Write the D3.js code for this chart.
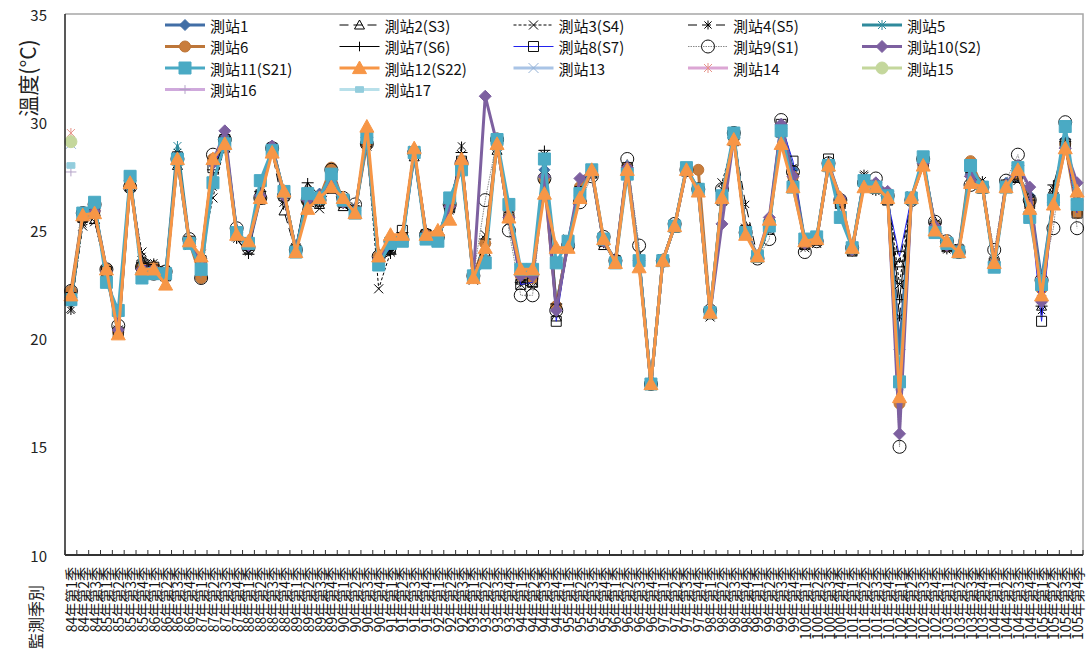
<!DOCTYPE html>
<html><head><meta charset="utf-8">
<script src="https://cdn.jsdelivr.net/npm/d3@7"></script>
<style>
body{margin:0;background:#fff;}
svg{display:block;font-family:"Noto Sans CJK TC","Noto Sans",sans-serif;}
</style></head>
<body>
<svg id="chart" width="1086" height="650"></svg>
<script>
const categories = [
"84年第1季","84年第2季","84年第3季",
"85年第1季","85年第2季","85年第3季","85年第4季",
"86年第1季","86年第2季","86年第3季","86年第4季",
"87年第1季","87年第2季","87年第3季","87年第4季",
"88年第1季","88年第2季","88年第3季","88年第4季",
"89年第1季","89年第2季","89年第3季","89年第4季",
"90年第1季","90年第2季","90年第3季","90年第4季",
"91年第1季","91年第2季","91年第3季","91年第4季",
"92年第1季","92年第2季","92年第3季",
"93年第1季","93年第2季","93年第3季","93年第4季",
"94年第1季","94年第2季","94年第3季","94年第4季",
"95年第1季","95年第2季","95年第3季","95年第4季",
"96年第1季","96年第2季","96年第3季","96年第4季",
"97年第1季","97年第2季","97年第3季","97年第4季",
"98年第1季","98年第2季","98年第3季","98年第4季",
"99年第1季","99年第2季","99年第3季","99年第4季",
"100年第1季","100年第2季","100年第3季","100年第4季",
"101年第1季","101年第2季","101年第3季","101年第4季",
"102年第1季","102年第2季","102年第3季","102年第4季",
"103年第1季","103年第2季","103年第3季","103年第4季",
"104年第1季","104年第2季","104年第3季","104年第4季",
"105年第1季","105年第2季","105年第3季","105年第4季"];

const yTicks = [10,15,20,25,30,35];

const st1 = [21.9,25.8,26.0,23.2,20.4,27.3,23.3,23.1,22.8,28.5,
 24.4,23.7,28.1,29.3,25.0,24.2,26.5,28.9,26.7,24.1,
 26.6,26.7,27.2,26.4,26.0,29.1,23.6,24.2,24.6,28.5,
 24.9,24.6,26.2,28.1,22.8,24.4,29.1,25.5,22.9,22.9,
 27.8,21.4,24.5,27.0,27.8,24.5,23.6,28.0,23.5,17.9,
 23.6,25.2,27.9,26.8,21.2,26.4,29.4,25.0,23.8,25.4,
 29.9,27.8,24.5,24.6,28.1,26.5,24.1,27.2,27.1,26.6,
 19.5,26.5,28.2,25.2,24.3,24.1,27.6,27.1,23.4,27.2,
 27.5,26.6,22.7,26.4,29.2,26.4];
const st2 = [21.8,25.6,25.5,23.0,20.5,27.0,23.6,23.4,23.0,28.0,
 24.6,23.5,27.5,28.8,24.8,24.4,26.4,28.6,25.9,24.0,
 27.0,26.2,26.9,26.1,25.8,29.0,23.5,24.1,24.8,28.4,
 24.7,24.5,26.0,28.0,22.9,24.0,28.7,25.8,22.7,22.6,
 27.6,21.0,24.3,26.6,27.6,24.3,23.6,27.7,23.8,17.9,
 23.6,25.1,27.7,26.8,21.1,26.6,29.1,25.2,23.7,25.0,
 29.5,27.5,24.3,24.5,27.9,26.2,24.0,27.4,26.9,26.4,
 23.5,26.4,28.0,25.4,24.2,24.2,27.3,26.9,23.4,27.0,
 27.4,26.2,21.5,26.9,28.9,26.3];
const st3 = [21.4,25.2,25.4,23.1,20.4,27.1,24.0,23.2,23.1,28.2,
 24.3,23.9,26.5,29.0,24.7,24.1,26.7,28.7,26.3,24.2,
 26.2,26.0,27.0,26.2,26.1,28.9,22.3,24.0,24.6,28.7,
 24.8,24.8,26.3,28.5,22.7,24.8,28.9,25.4,22.5,22.4,
 28.5,21.2,24.6,26.9,27.7,24.4,23.5,27.8,23.9,17.9,
 23.7,25.3,27.8,26.8,21.0,27.2,29.2,25.1,23.9,25.2,
 29.6,27.7,24.2,24.4,28.0,26.4,24.2,27.5,27.0,26.7,
 22.5,26.6,28.1,25.3,24.4,24.0,27.4,27.0,23.6,27.1,
 27.3,26.4,21.8,26.7,28.7,26.0];
const st4 = [21.3,25.3,25.6,23.0,20.3,27.0,23.8,23.5,23.2,28.6,
 24.4,23.8,27.0,28.9,24.6,24.0,26.6,28.7,26.4,24.2,
 26.5,26.3,27.1,26.2,26.0,29.0,23.8,24.1,24.7,28.7,
 24.9,24.6,25.9,28.9,22.9,24.6,28.9,25.7,22.7,22.7,
 28.2,21.5,24.5,26.7,27.8,24.6,23.6,28.0,23.6,17.9,
 23.5,25.3,27.8,27.0,21.2,26.9,29.3,26.2,23.8,25.4,
 29.8,27.9,24.5,24.7,28.1,26.4,24.0,27.6,26.8,26.7,
 21.0,26.5,28.2,25.3,24.1,24.2,27.4,27.3,23.5,27.1,
 27.5,26.5,21.3,26.9,28.9,26.0];
const st5 = [21.7,25.7,26.0,23.1,20.2,27.3,23.3,23.2,22.9,28.9,
 24.5,23.6,28.1,29.2,24.9,24.3,26.6,28.9,26.7,24.1,
 26.5,26.6,27.2,26.3,25.9,29.3,23.7,24.3,24.7,28.6,
 24.8,24.7,26.1,28.2,22.9,24.3,29.0,25.6,22.9,22.9,
 27.9,21.5,24.4,26.8,27.7,24.5,23.6,27.9,23.6,17.9,
 23.6,25.2,27.8,26.9,21.2,26.5,29.3,25.0,23.8,25.3,
 29.8,27.7,24.4,24.6,28.0,26.3,24.1,27.3,27.0,26.6,
 17.8,26.5,28.1,25.2,24.3,24.1,27.5,27.0,23.5,27.1,
 27.6,26.3,22.3,26.3,29.0,26.5];
const st6 = [22.2,25.8,25.9,23.2,20.3,27.2,23.3,23.3,22.9,28.3,
 24.5,22.8,28.3,29.1,24.9,24.4,26.5,28.8,26.7,24.1,
 26.3,26.5,27.9,26.3,25.9,29.0,23.8,24.4,24.7,28.6,
 24.8,24.7,26.2,28.1,22.9,24.4,29.1,25.6,22.9,22.8,
 27.3,21.5,24.4,27.0,27.7,24.5,23.6,27.9,23.6,17.9,
 23.6,25.2,27.8,27.8,21.2,26.5,29.3,25.0,23.8,25.3,
 29.6,27.5,24.4,24.6,28.0,26.3,24.1,27.3,27.0,26.6,
 17.0,26.5,28.1,25.2,24.3,24.1,28.2,27.0,23.5,27.1,
 27.6,26.3,22.3,26.3,29.0,25.8];
const st7 = [21.6,25.5,25.7,23.0,20.4,27.1,23.5,23.4,23.0,28.1,
 24.4,23.7,27.8,29.0,24.6,23.9,26.8,28.7,26.5,24.2,
 27.2,26.6,27.2,26.5,26.0,29.1,23.6,23.9,24.9,28.5,
 24.9,24.7,26.0,28.6,22.8,24.6,28.8,25.9,22.6,22.9,
 28.7,21.6,24.3,26.6,27.6,24.4,23.6,27.8,23.7,17.9,
 23.6,25.2,27.8,26.9,21.2,26.7,29.3,25.1,23.8,25.2,
 29.7,27.6,24.4,24.7,28.2,26.4,24.1,27.3,26.9,26.5,
 21.8,26.5,28.2,25.3,24.4,24.0,27.5,27.0,23.4,27.0,
 27.6,26.4,21.5,27.1,29.1,26.4];
const st8 = [21.9,25.6,25.8,23.1,20.3,27.5,23.4,23.3,22.9,28.4,
 24.5,23.6,27.9,29.2,24.9,24.3,26.6,28.8,26.6,24.1,
 26.5,26.4,27.0,26.3,25.9,29.1,23.5,24.2,25.0,28.6,
 24.8,24.6,26.1,28.2,22.9,23.5,29.1,25.6,22.5,22.6,
 28.3,20.8,24.4,26.8,27.7,24.5,23.6,27.9,23.6,17.9,
 23.6,25.2,27.8,26.9,21.2,26.4,29.4,25.0,23.8,25.3,
 29.9,28.2,24.4,24.6,28.3,26.3,24.1,27.3,27.0,26.4,
 23.8,26.5,28.1,25.2,24.3,24.1,27.9,27.0,23.5,27.1,
 27.6,26.3,20.8,26.3,29.0,25.8];
const st9 = [22.2,25.8,26.2,23.2,20.6,27.0,23.3,23.0,23.1,28.3,
 24.6,22.8,28.5,29.2,25.1,24.2,26.5,28.8,26.6,24.1,
 26.4,26.4,27.8,26.5,26.2,29.0,23.8,24.5,24.6,28.6,
 24.8,24.7,26.2,28.1,22.9,26.4,29.2,25.0,22.0,22.0,
 27.4,21.3,24.3,26.3,27.5,24.7,23.6,28.3,24.3,17.9,
 23.6,25.3,27.8,26.9,21.3,26.9,29.5,24.9,23.7,24.6,
 30.1,27.7,24.0,24.5,28.1,26.4,24.2,27.2,27.4,26.6,
 15.0,26.4,28.3,25.4,24.5,24.0,27.1,27.0,24.1,27.3,
 28.5,26.4,22.7,25.1,30.0,25.1];
const st10 = [21.9,25.8,25.9,23.1,20.4,27.3,23.2,23.2,22.9,28.3,
 24.5,23.6,28.1,29.6,24.9,24.3,26.6,28.9,26.6,24.1,
 26.4,26.6,27.2,26.3,25.9,29.3,23.7,24.4,24.7,28.6,
 24.8,24.7,26.1,28.2,22.9,31.2,29.0,25.6,22.9,22.9,
 27.5,21.3,24.4,27.4,27.7,24.5,23.6,27.9,23.6,17.9,
 23.6,25.2,27.8,26.9,21.2,25.3,29.3,25.0,23.8,25.6,
 29.9,27.5,24.4,24.6,28.0,26.5,24.1,27.3,27.2,26.8,
 15.6,26.5,28.1,25.2,24.3,24.1,27.5,27.0,23.5,27.1,
 28.0,27.0,21.7,26.3,28.8,27.2];
const st11 = [21.8,25.8,26.3,22.6,21.3,27.5,22.8,23.0,23.0,28.3,
 24.4,23.2,27.2,29.0,24.9,24.4,27.3,28.7,26.8,24.0,
 26.7,26.5,27.6,26.4,25.8,29.3,23.4,24.4,24.5,28.6,
 24.6,24.5,26.5,27.8,22.9,23.5,29.2,26.2,23.2,23.2,
 28.3,23.5,24.5,26.7,27.8,24.6,23.5,27.6,23.6,17.9,
 23.6,25.2,27.9,26.9,21.2,26.6,29.5,24.9,23.8,25.2,
 29.6,27.0,24.6,24.7,28.0,25.6,24.2,27.3,27.0,26.6,
 18.0,26.5,28.4,24.9,24.4,24.0,28.0,27.0,23.3,27.0,
 27.9,25.6,22.5,26.4,29.8,26.2];
const st12 = [22.0,25.7,25.8,23.2,20.2,27.2,23.2,23.2,22.5,28.3,
 24.5,23.8,28.3,29.0,24.8,24.5,26.5,28.6,26.8,24.0,
 26.0,26.5,27.0,26.5,25.8,29.8,23.8,24.8,24.8,28.8,
 24.8,25.0,25.5,28.3,22.8,24.2,29.0,25.6,23.2,23.2,
 26.7,24.2,24.2,26.5,27.8,24.6,23.5,27.8,23.3,17.9,
 23.6,25.2,27.8,26.8,21.2,26.5,29.2,24.8,23.8,25.5,
 29.0,27.0,24.5,24.6,28.0,26.5,24.2,27.0,27.0,26.5,
 17.3,26.5,28.0,25.0,24.5,24.0,27.2,27.0,23.5,27.0,
 27.8,26.0,22.0,26.2,28.8,26.8];
const st13 = [29.0];
const st14 = [29.5];
const st15 = [29.1];
const st16 = [27.7];
const st17 = [28.0];

const seriesNames = ["測站1","測站2(S3)","測站3(S4)","測站4(S5)","測站5",
 "測站6","測站7(S6)","測站8(S7)","測站9(S1)","測站10(S2)",
 "測站11(S21)","測站12(S22)","測站13","測站14","測站15","測站16","測站17"];
const seriesValues = [st1,st2,st3,st4,st5,st6,st7,st8,st9,st10,st11,st12,st13,st14,st15,st16,st17];

// styles (not data)
const styles = [
 {c:"#416ea6", w:3, dash:null, m:"diamond", ms:5.5, mf:"#416ea6", mc:"#416ea6"},
 {c:"#000", w:1, dash:"9,5", m:"triangle", ms:5, mf:"none", mc:"#000"},
 {c:"#000", w:1, dash:"3,2", m:"x", ms:4.5, mf:"none", mc:"#000"},
 {c:"#000", w:1, dash:"9,5", m:"asterisk", ms:4.5, mf:"none", mc:"#000"},
 {c:"#2f8a9c", w:3, dash:null, m:"asterisk", ms:5, mf:"none", mc:"#2f8a9c"},
 {c:"#bd7639", w:3, dash:null, m:"circle", ms:5.5, mf:"#c97d3c", mc:"#bd7639"},
 {c:"#000", w:1, dash:null, m:"plus", ms:6, mf:"none", mc:"#000"},
 {c:"#2222ee", w:1, dash:null, m:"square", ms:5, mf:"none", mc:"#111"},
 {c:"#8a8a8a", w:1, dash:"1.5,1", m:"circle", ms:6.5, mf:"none", mc:"#111"},
 {c:"#7d60a0", w:3, dash:null, m:"diamond", ms:6, mf:"#7d60a0", mc:"#7d60a0"},
 {c:"#4aaac4", w:3, dash:null, m:"square", ms:6, mf:"#4aaac4", mc:"#4aaac4"},
 {c:"#f79646", w:3, dash:null, m:"triangle", ms:7, mf:"#f79646", mc:"#f79646"},
 {c:"#a9c4e6", w:3, dash:null, m:"x", ms:5, mf:"none", mc:"#95b3d7"},
 {c:"#dca6d4", w:3, dash:null, m:"asterisk", ms:5, mf:"none", mc:"#e6948a"},
 {c:"#c4d79c", w:3, dash:null, m:"circle", ms:6, mf:"#c4d79c", mc:"#c4d79c"},
 {c:"#cfa9dc", w:3, dash:null, m:"plus", ms:5.5, mf:"none", mc:"#b3a2c7"},
 {c:"#b8e0ea", w:3, dash:null, m:"rect", ms:4, mf:"#93cddd", mc:"#93cddd"}
];

function markerPath(t, s){
  switch(t){
    case "diamond": return `M0,${-s}L${s},0L0,${s}L${-s},0Z`;
    case "triangle": return `M0,${-s}L${s},${s*0.8}L${-s},${s*0.8}Z`;
    case "square": return `M${-s},${-s}h${2*s}v${2*s}h${-2*s}Z`;
    case "circle": return `M${s},0A${s},${s} 0 1,1 ${-s},0A${s},${s} 0 1,1 ${s},0Z`;
    case "x": return `M${-s},${-s}L${s},${s}M${-s},${s}L${s},${-s}`;
    case "plus": return `M${-s},0H${s}M0,${-s*0.8}V${s*0.8}`;
    case "asterisk": return `M${-s*0.8},${-s*0.8}L${s*0.8},${s*0.8}M${-s*0.8},${s*0.8}L${s*0.8},${-s*0.8}M0,${-s}V${s}`;
    case "rect": return `M${-s},${-s*0.7}h${2*s}v${1.4*s}h${-2*s}Z`;
  }
}

const svg = d3.select("#chart");
const L = 65, R = 1083, T = 14, B = 555;
const x = d3.scaleBand().domain(categories).range([L, R]).padding(0);
const y = d3.scaleLinear().domain([10, 35]).range([B, T]);
const cx = c => x(c) + x.bandwidth()/2;

// plot border (top/right)
svg.append("path").attr("d", `M${L},${T}H${R}V${B}`).attr("fill","none").attr("stroke","#a6a6a6").attr("stroke-width",1.5);

// series
seriesValues.forEach((vals, i) => {
  const s = styles[i];
  const pts = vals.map((v, j) => ({c: categories[j], v})).filter(d => d.v != null);
  const g = svg.append("g");
  if (pts.length > 1) {
    g.append("path").datum(pts)
      .attr("d", d3.line().x(d => cx(d.c)).y(d => y(d.v)))
      .attr("fill","none").attr("stroke", s.c).attr("stroke-width", s.w)
      .attr("stroke-dasharray", s.dash).attr("stroke-linejoin","round");
  }
  g.selectAll("path.m").data(pts).join("path").attr("class","m")
    .attr("transform", d => `translate(${cx(d.c)},${y(d.v)})`)
    .attr("d", markerPath(s.m, s.ms))
    .attr("fill", s.mf).attr("stroke", s.mc).attr("stroke-width", 1);
});

// axes
svg.append("line").attr("x1",L).attr("x2",L).attr("y1",T).attr("y2",B).attr("stroke","#222").attr("stroke-width",1.5);
svg.append("line").attr("x1",L).attr("x2",R).attr("y1",B).attr("y2",B).attr("stroke","#333").attr("stroke-width",2);
const tickX = categories.map(c => x(c)).concat([R]);
svg.append("g").selectAll("line").data(tickX).join("line")
  .attr("x1", d => d).attr("x2", d => d).attr("y1", B).attr("y2", B-5)
  .attr("stroke","#333").attr("stroke-width",1);

svg.append("g").selectAll("text").data(yTicks).join("text")
  .attr("x", 47).attr("y", d => y(d)).attr("text-anchor","end")
  .attr("dominant-baseline","central").attr("font-size",15).attr("fill","#222")
  .text(d => d);

svg.append("g").selectAll("text").data(categories).join("text")
  .attr("transform", d => `translate(${cx(d)},567) rotate(-90)`)
  .attr("text-anchor","end").attr("dominant-baseline","central")
  .attr("font-size",14).attr("fill","#111").text(d => d);

svg.append("text").attr("transform","translate(27,78) rotate(-90)")
  .attr("text-anchor","middle").attr("dominant-baseline","central")
  .attr("font-size",21).attr("fill","#222").text("溫度(°C)");
svg.append("text").attr("transform","translate(35,617) rotate(-90)")
  .attr("text-anchor","middle").attr("dominant-baseline","central")
  .attr("font-size",16).attr("fill","#222").text("監測季別");

// legend
const colX = [165, 339.5, 513.5, 688, 862];
const rowY = [25, 46.5, 68, 89.5];
const lg = svg.append("g");
seriesNames.forEach((name, i) => {
  const s = styles[i];
  const gx = colX[i % 5], gy = rowY[Math.floor(i / 5)];
  const g = lg.append("g").attr("transform", `translate(${gx},${gy})`);
  g.append("line").attr("x1",0).attr("x2",40).attr("y1",0).attr("y2",0)
    .attr("stroke", s.c).attr("stroke-width", s.w).attr("stroke-dasharray", s.dash);
  g.append("path").attr("transform","translate(20,0)").attr("d", markerPath(s.m, s.ms))
    .attr("fill", s.mf).attr("stroke", s.mc).attr("stroke-width",1);
  g.append("text").attr("x", 45).attr("y", 0).attr("dominant-baseline","central")
    .attr("font-size",15).attr("fill","#111").text(name);
});
</script>
</body></html>
